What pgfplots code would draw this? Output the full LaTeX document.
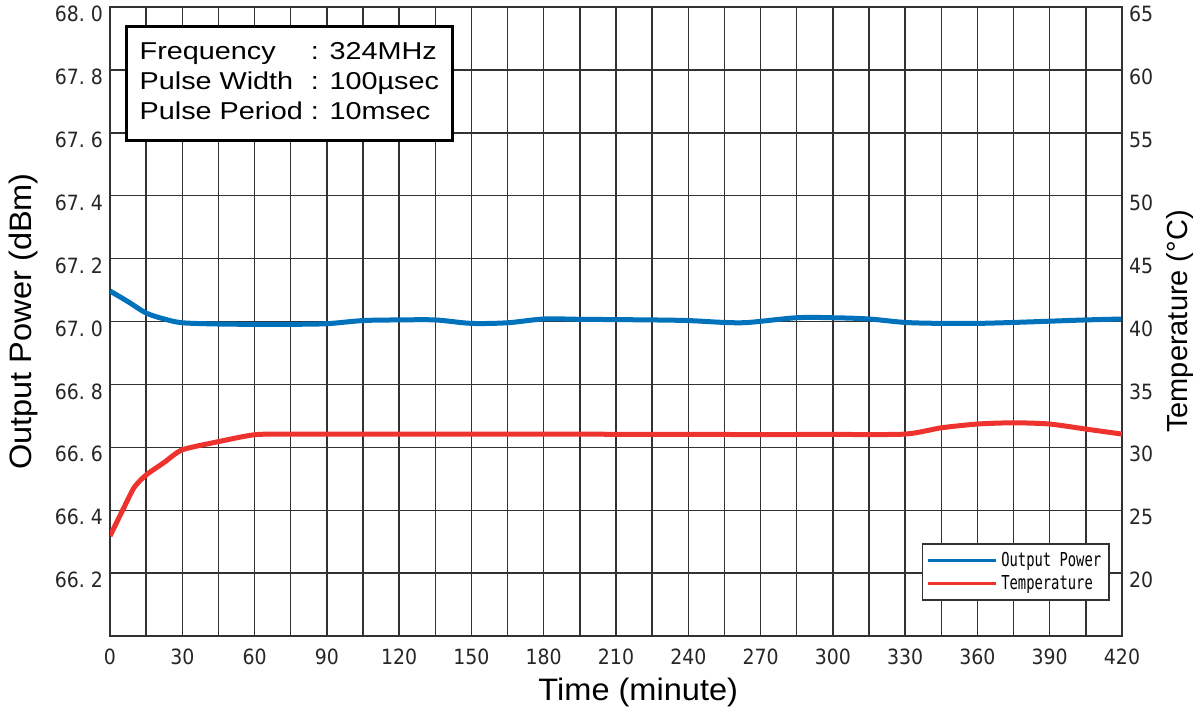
\documentclass[border=0pt]{standalone}
\usepackage{pgfplots}
\pgfplotsset{compat=1.18}
\usepackage{fontspec}
\setmainfont{Liberation Sans}
\newfontfamily\tickfont{DejaVu Sans Condensed}
\newfontfamily\legfont[FakeStretch=0.72]{DejaVu Sans Mono}
\newfontfamily\boxfont[FakeStretch=1.18]{Liberation Sans}
\newfontfamily\labfont[FakeStretch=1.05]{Liberation Sans}
\definecolor{pblue}{RGB}{0,114,188}
\definecolor{tred}{RGB}{238,50,45}
\definecolor{gridc}{RGB}{50,50,50}
\pgfplotsset{
  common/.style={
    scale only axis, width=506pt, height=314.5pt,
    xmin=0, xmax=420,
    axis line style={gridc, line width=1pt},
    tick style={draw=none},
    /pgf/number format/assume math mode=true,
    ticklabel style={font=\tickfont\fontsize{10.5}{12}\selectfont, text=black!85},
    yticklabel style={yshift=-3.5pt},
    xticklabel style={yshift=-3pt},
    label style={font=\labfont\fontsize{15.5}{18}\selectfont},
  }
}
\pgfplotstableread{
t p
0 67.097
7.5 67.063
15 67.027
22.5 67.008
30 66.996
45 66.992
60 66.991
75 66.991
90 66.993
105 67.003
120 67.005
135 67.005
150 66.994
165 66.996
180 67.008
195 67.007
210 67.006
225 67.005
240 67.003
255 66.997
265 66.997
285 67.012
300 67.012
315 67.008
330 66.997
345 66.994
360 66.994
375 66.997
390 67.001
405 67.005
420 67.008
}\powertable
\pgfplotstableread{
t T
0 22.95
5 24.9
10 26.8
15 27.8
22.5 28.8
30 29.8
45 30.45
60 31.0
75 31.05
120 31.05
180 31.05
240 31.02
300 31.02
330 31.05
345 31.55
360 31.85
375 31.95
390 31.85
405 31.45
420 31.05
}\temptable
\begin{document}
\begin{tikzpicture}
\path[use as bounding box] (-55pt,-39pt) rectangle (545pt,318pt);
\begin{axis}[common,
  ymin=66, ymax=68,
  ytick={66.2,66.4,66.6,66.8,67.0,67.2,67.4,67.6,67.8,68.0},
  yticklabels={66.\ 2,66.\ 4,66.\ 6,66.\ 8,67.\ 0,67.\ 2,67.\ 4,67.\ 6,67.\ 8,68.\ 0},
  xtick={0,30,...,420},
  minor xtick={15,45,...,405},
  grid=both,
  grid style={gridc, line width=0.7pt},
  minor grid style={gridc, line width=0.7pt},
  xlabel={Time (minute)},
  ylabel={Output Power (dBm)},
  xlabel style={at={(axis description cs:0.522,-0.089)}, anchor=center},
  ylabel style={at={(axis description cs:-0.085,0.5)}, anchor=center},
]
\addplot[pblue, line width=2.5pt, smooth, tension=0.5] table[x=t, y=p] {\powertable};
\node[draw=black, line width=1.5pt, fill=white, anchor=north west, inner xsep=6.5pt, inner ysep=6pt,
  font=\boxfont\fontsize{12.2}{15}\selectfont] at (rel axis cs:0.015,0.971)
  {\begin{tabular}{@{}l@{\ }l@{}}Frequency & : 324MHz\\ Pulse Width & : 100µsec\\ Pulse Period & : 10msec\end{tabular}};
\end{axis}
\begin{axis}[common,
  ymin=15, ymax=65,
  ytick={20,25,...,65},
  axis y line*=right,
  axis x line=none,
  ylabel={Temperature (°C)},
  ylabel style={at={(axis description cs:1.057,0.5)}, anchor=center, rotate=0, font=\fontsize{14.5}{17}\selectfont},
  legend style={at={(rel axis cs:0.988,0.056)}, anchor=south east, draw=gridc, line width=0.7pt,
    fill=white, font=\legfont\fontsize{9.6}{10.5}\selectfont, row sep=-1pt, inner sep=2pt},
  legend cell align=left,
  legend image code/.code={\draw[#1, line width=1.2pt] (0cm,0cm) -- (1.2cm,0cm);},
]
\addlegendimage{pblue, line width=2.5pt}
\addlegendentry{Output Power}
\addplot[tred, line width=2.5pt, smooth, tension=0.4] table[x=t, y=T] {\temptable};
\addlegendentry{Temperature}
\end{axis}
\end{tikzpicture}
\end{document}
